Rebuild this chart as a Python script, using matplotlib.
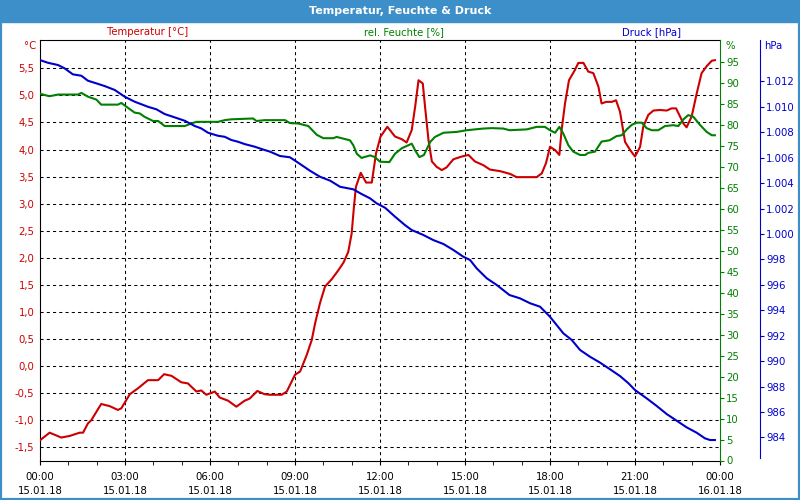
import matplotlib
matplotlib.use('Agg')
import matplotlib.pyplot as plt
from matplotlib.patches import Rectangle

# Stunden ab 15.01.18 00:00
temp_h = [0, 0.34, 0.75, 1.05, 1.4, 1.52, 1.69, 1.81, 2.16, 2.46, 2.75, 2.87, 3.17, 3.46,
          3.81, 4.17, 4.38, 4.64, 4.99, 5.22, 5.52, 5.69, 5.87, 6.17, 6.34, 6.64, 6.93, 7.22,
          7.4, 7.67, 7.93, 8.12, 8.53, 8.71, 9.0, 9.18, 9.41, 9.59, 9.71, 9.88, 10.06, 10.29,
          10.53, 10.71, 10.88, 11.0, 11.08, 11.15, 11.32, 11.51, 11.71, 11.86, 12.02, 12.26,
          12.53, 12.77, 12.94, 13.12, 13.24, 13.36, 13.51, 13.59, 13.71, 13.83, 14.0, 14.18,
          14.35, 14.59, 14.88, 15.12, 15.35, 15.65, 15.88, 16.24, 16.59, 16.82, 17.53, 17.71,
          17.86, 18.0, 18.18, 18.33, 18.41, 18.53, 18.67, 18.88, 19.0, 19.18, 19.35, 19.53,
          19.71, 19.82, 19.98, 20.18, 20.33, 20.47, 20.65, 20.83, 21.0, 21.18, 21.29, 21.47,
          21.65, 21.88, 22.12, 22.29, 22.45, 22.59, 22.71, 22.82, 23.0, 23.18, 23.35, 23.53,
          23.71, 23.82]
temp = [-1.37, -1.23, -1.32, -1.29, -1.23, -1.23, -1.06, -1.0, -0.70, -0.74, -0.81, -0.78,
        -0.52, -0.41, -0.26, -0.26, -0.15, -0.18, -0.30, -0.32, -0.47, -0.45, -0.53, -0.47,
        -0.58, -0.64, -0.75, -0.64, -0.60, -0.46, -0.52, -0.53, -0.53, -0.47, -0.16, -0.10,
        0.20, 0.48, 0.79, 1.16, 1.47, 1.60, 1.77, 1.91, 2.11, 2.45, 2.94, 3.31, 3.57, 3.39,
        3.39, 3.93, 4.24, 4.42, 4.24, 4.19, 4.13, 4.36, 4.79, 5.28, 5.22, 4.79, 4.18, 3.78,
        3.68, 3.62, 3.67, 3.82, 3.87, 3.90, 3.78, 3.71, 3.63, 3.60, 3.55, 3.49, 3.49, 3.56,
        3.75, 4.05, 3.99, 3.90, 4.36, 4.85, 5.28, 5.47, 5.60, 5.60, 5.44, 5.41, 5.16, 4.85,
        4.88, 4.88, 4.91, 4.70, 4.14, 3.99, 3.87, 4.05, 4.42, 4.64, 4.72, 4.73, 4.72, 4.76,
        4.76, 4.61, 4.48, 4.41, 4.61, 5.04, 5.41, 5.54, 5.64, 5.65]

hum_h = [0, 0.33, 0.64, 1.34, 1.46, 1.69, 1.99, 2.16, 2.75, 2.87, 3.05, 3.34, 3.52, 3.69,
         3.99, 4.17, 4.40, 5.11, 5.34, 5.52, 6.28, 6.52, 6.75, 7.52, 7.64, 7.93, 8.65, 8.82,
         9.12, 9.47, 9.77, 10.0, 10.35, 10.47, 10.94, 11.06, 11.18, 11.35, 11.65, 11.82, 12.0,
         12.33, 12.53, 12.77, 13.12, 13.24, 13.39, 13.55, 13.77, 13.94, 14.24, 14.71, 15.06,
         15.65, 15.94, 16.35, 16.57, 17.18, 17.53, 17.82, 18.0, 18.18, 18.33, 18.47, 18.65,
         18.82, 19.06, 19.24, 19.35, 19.59, 19.82, 20.1, 20.35, 20.53, 20.71, 20.89, 21.06,
         21.24, 21.41, 21.59, 21.82, 22.06, 22.35, 22.53, 22.71, 22.88, 23.06, 23.29, 23.53,
         23.71, 23.82]
hum = [87.4, 86.8, 87.2, 87.2, 87.6, 86.7, 86.0, 84.8, 84.8, 85.2, 84.3, 82.9, 82.7, 81.9,
       80.9, 80.9, 79.7, 79.7, 80.3, 80.7, 80.7, 81.1, 81.3, 81.5, 80.9, 81.1, 81.1, 80.4,
       80.3, 79.7, 77.6, 76.8, 76.8, 77.1, 76.3, 75.1, 73.1, 72.1, 72.7, 72.3, 71.2, 71.1,
       73.1, 74.4, 75.5, 73.9, 72.3, 72.8, 75.9, 77.1, 78.1, 78.3, 78.7, 79.1, 79.2, 79.1,
       78.7, 78.9, 79.5, 79.5, 78.7, 78.1, 79.5, 77.9, 75.1, 73.6, 72.8, 72.8, 73.3, 73.6,
       76.0, 76.3, 77.3, 77.5, 78.9, 80.0, 80.5, 80.5, 79.2, 78.7, 78.7, 79.7, 79.9, 79.7,
       81.3, 82.3, 81.9, 80.0, 78.3, 77.5, 77.5]

druck_h = [0, 0.28, 0.64, 0.87, 1.16, 1.46, 1.69, 1.99, 2.28, 2.64, 2.99, 3.34, 3.81, 4.11,
           4.40, 4.75, 5.11, 5.46, 5.69, 5.93, 6.28, 6.52, 6.75, 6.99, 7.22, 7.58, 7.93, 8.12,
           8.47, 8.82, 9.18, 9.53, 9.88, 10.24, 10.59, 11.06, 11.35, 11.65, 11.88, 12.18,
           12.53, 12.88, 13.12, 13.53, 13.88, 14.24, 14.59, 14.94, 15.18, 15.41, 15.77, 16.12,
           16.57, 16.94, 17.3, 17.65, 18.0, 18.47, 18.77, 19.06, 19.41, 19.77, 20.12, 20.47,
           20.77, 21.0, 21.41, 21.77, 22.12, 22.47, 22.82, 23.18, 23.47, 23.65, 23.82]
druck = [1013.67, 1013.46, 1013.28, 1013.02, 1012.55, 1012.44, 1012.05, 1011.84, 1011.63,
         1011.32, 1010.79, 1010.40, 1010.0, 1009.80, 1009.43, 1009.17, 1008.90, 1008.49,
         1008.30, 1007.96, 1007.72, 1007.64, 1007.39, 1007.25, 1007.07, 1006.86, 1006.60,
         1006.47, 1006.13, 1006.03, 1005.50, 1004.97, 1004.50, 1004.19, 1003.71, 1003.51,
         1003.14, 1002.80, 1002.41, 1002.06, 1001.36, 1000.70, 1000.31, 999.92, 999.52,
         999.21, 998.74, 998.21, 997.95, 997.30, 996.51, 995.99, 995.20, 994.94, 994.55,
         994.28, 993.49, 992.19, 991.66, 990.88, 990.35, 989.88, 989.36, 988.83, 988.26,
         987.73, 987.08, 986.47, 985.84, 985.32, 984.80, 984.37, 983.93, 983.80, 983.80]

x_ticks = [0, 3, 6, 9, 12, 15, 18, 21, 24]
x_labels = ['00:00\n15.01.18', '03:00\n15.01.18', '06:00\n15.01.18', '09:00\n15.01.18',
            '12:00\n15.01.18', '15:00\n15.01.18', '18:00\n15.01.18', '21:00\n15.01.18',
            '00:00\n16.01.18']
t_ticks = [-1.5, -1.0, -0.5, 0.0, 0.5, 1.0, 1.5, 2.0, 2.5, 3.0, 3.5, 4.0, 4.5, 5.0, 5.5]
h_ticks = list(range(0, 100, 5))
p_ticks = list(range(984, 1013, 2))

RED = '#cc0000'
GREEN = '#008000'
BLUE = '#0000cc'
BAR = '#3c8fc8'
FS = 7.3

plt.rcParams['font.family'] = ['DejaVu Sans']

fig = plt.figure(figsize=(8, 5), dpi=100)
ax = fig.add_axes([40/800, 39.5/500, 680/800, 420.5/500])
ax2 = ax.twinx()
ax3 = ax.twinx()

ax.plot(temp_h, temp, color=RED, lw=1.5, zorder=3)
ax2.plot(hum_h, hum, color=GREEN, lw=1.5)
ax3.plot(druck_h, druck, color=BLUE, lw=1.5)

ax.set_xlim(0, 24)
ax.set_ylim(-1.744, 6.023)
ax2.set_ylim(0, 100.2)
ax3.set_ylim(982.19, 1015.25)

# Gitter
for t in t_ticks:
    ax.axhline(t, color='black', lw=0.75, ls=(0, (3, 3)), zorder=1)
for x in x_ticks[1:-1]:
    ax.axvline(x, color='black', lw=0.75, ls=(0, (3, 3)), zorder=1)

ax.set_xticks(x_ticks)
ax.set_xticklabels(x_labels, fontsize=FS, linespacing=1.6)
ax.set_xticks(range(25), minor=True)
ax.tick_params(axis='x', which='both', direction='out', length=3, pad=5, color='black')

ax.set_yticks(t_ticks)
ax.set_yticklabels([('%.1f' % t).replace('.', ',') for t in t_ticks], color=RED, fontsize=FS)
ax.tick_params(axis='y', length=0, pad=4)
ax.spines['right'].set_visible(False)

ax2.set_yticks(h_ticks)
ax2.set_yticklabels([str(v) for v in h_ticks], color=GREEN, fontsize=FS)
ax2.tick_params(axis='y', length=3, pad=1.5, color=GREEN)
ax2.spines['right'].set_color(GREEN)
for s in ['top', 'left', 'bottom']:
    ax2.spines[s].set_visible(False)

ax3.spines['right'].set_position(('axes', 720/680))
ax3.spines['right'].set_color(BLUE)
ax3.spines['right'].set_bounds(982.4, 1015.25)
for s in ['top', 'left', 'bottom']:
    ax3.spines[s].set_visible(False)
ax3.set_yticks(p_ticks)
ax3.set_yticklabels([('%.3f' % (p / 1000)) if p >= 1000 else str(p) for p in p_ticks],
                    color=BLUE, fontsize=FS)
ax3.tick_params(axis='y', length=3, pad=1.5, color=BLUE)

# Titelbalken und Rahmen
fig.add_artist(Rectangle((0, 1 - 22/500), 1, 22/500, transform=fig.transFigure,
                         color=BAR, zorder=0))
fig.add_artist(Rectangle((0, 0), 1, 1, transform=fig.transFigure, fill=False,
                         edgecolor=BAR, lw=3, zorder=5))
fig.text(0.5, 1 - 11/500, 'Temperatur, Feuchte & Druck', color='white', fontsize=8,
         fontweight='bold', ha='center', va='center')

fig.text(148/800, 1 - 32/500, 'Temperatur [°C]', color=RED, fontsize=FS, ha='center', va='center')
fig.text(404/800, 1 - 32/500, 'rel. Feuchte [%]', color=GREEN, fontsize=FS, ha='center', va='center')
fig.text(652/800, 1 - 32/500, 'Druck [hPa]', color=BLUE, fontsize=FS, ha='center', va='center')

fig.text(36/800, 1 - 46/500, '°C', color=RED, fontsize=FS, ha='right', va='center')
fig.text(725/800, 1 - 46/500, '%', color=GREEN, fontsize=FS, ha='left', va='center')
fig.text(764/800, 1 - 46/500, 'hPa', color=BLUE, fontsize=FS, ha='left', va='center')

fig.savefig('out.png', dpi=100)
